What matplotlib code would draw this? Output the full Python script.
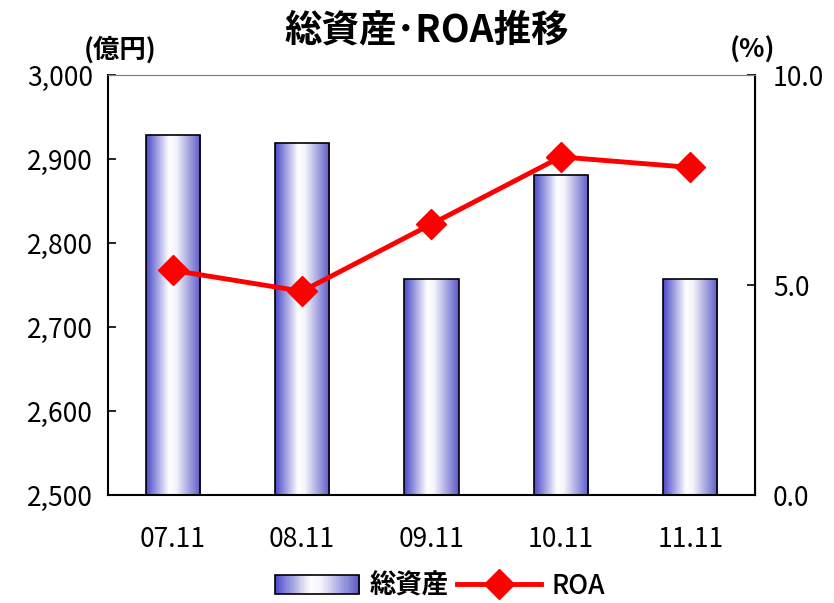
import matplotlib
matplotlib.use("Agg")
import matplotlib.pyplot as plt
import numpy as np
from matplotlib.patches import Rectangle
from matplotlib.legend_handler import HandlerBase
from matplotlib.lines import Line2D
from matplotlib.colors import LinearSegmentedColormap

categories = ["07.11", "08.11", "09.11", "10.11", "11.11"]
assets = [2929, 2919, 2757, 2881, 2757]
roa = [5.35, 4.85, 6.45, 8.05, 7.8]
left_ticks = [2500, 2600, 2700, 2800, 2900, 3000]
right_ticks = [0.0, 5.0, 10.0]

plt.rcParams['font.family'] = ['Noto Sans CJK JP', 'DejaVu Sans']
JP = ['Noto Sans CJK JP', 'DejaVu Sans']

cmap = LinearSegmentedColormap.from_list(
    "bar", [(0.0, "#4848c8"), (0.42, "#ffffff"), (0.55, "#f4f4fb"), (1.0, "#5a5ac8")])

fig = plt.figure(figsize=(8.34, 6.03), dpi=100)
ax = fig.add_axes([108/834, 108/603, 647/834, 420/603])
ax2 = ax.twinx()

x = np.arange(len(categories))
width = 0.42
bars = ax.bar(x, assets, width=width, bottom=0, facecolor="none",
              edgecolor="black", linewidth=1.2, zorder=3)
grad = np.linspace(0, 1, 256).reshape(1, -1)
for b in bars:
    x0 = b.get_x(); w = b.get_width(); h = b.get_height()
    im = ax.imshow(grad, cmap=cmap, aspect="auto", extent=[x0, x0 + w, 2500, h],
                   zorder=2, interpolation="bicubic")
    im.set_clip_path(b)

ax.set_xlim(-0.5, len(categories) - 0.5)
ax.set_ylim(2500, 3000)
ax.set_yticks(left_ticks)
ax.set_yticklabels([f"{v:,}" for v in left_ticks], fontsize=19)
ax.set_xticks(x)
ax.set_xticklabels(categories, fontsize=19)
ax.tick_params(axis='y', direction='in', length=6, width=1.2, pad=11)
ax.tick_params(axis='x', length=0, pad=22)
ax.spines['top'].set_color("#808080")
ax.spines['left'].set_linewidth(1.5)
ax.spines['bottom'].set_linewidth(1.5)

ax2.plot(x, roa, color="#ff0000", lw=3.5, marker="D", markersize=15,
         markerfacecolor="#ff0000", markeredgecolor="#ff0000", zorder=5)
ax2.set_ylim(0, 10)
ax2.set_yticks(right_ticks)
ax2.set_yticklabels([f"{v:.1f}" for v in right_ticks], fontsize=19)
ax2.tick_params(axis='y', direction='in', length=6, width=1.2, pad=13)
ax2.spines['right'].set_linewidth(1.5)
ax2.spines['top'].set_color("#808080")
ax2.spines['left'].set_visible(False)
ax2.spines['bottom'].set_visible(False)

fig.text(427/834, 1 - 30/603, "総資産･ROA推移", ha="center", va="center",
         fontsize=27, fontweight="bold", family=JP)
fig.text(120/834, 1 - 50/603, "(億円)", ha="center", va="center",
         fontsize=19, fontweight="bold", family=JP)
fig.text(753/834, 1 - 50/603, "(%)", ha="center", va="center",
         fontsize=19, fontweight="bold", family=JP)


class GradHandler(HandlerBase):
    def create_artists(self, legend, orig_handle, xdescent, ydescent, width,
                       height, fontsize, trans):
        arts = []
        n = 40
        for i in range(n):
            c = cmap((i + 0.5) / n)
            r = Rectangle((-xdescent + width * i / n, -ydescent), width / n + 0.3, height,
                          facecolor=c, edgecolor="none", transform=trans)
            arts.append(r)
        arts.append(Rectangle((-xdescent, -ydescent), width, height, facecolor="none",
                              edgecolor="black", lw=1.2, transform=trans))
        return arts


bar_handle = Rectangle((0, 0), 1, 1)
line_handle = Line2D([], [], color="#ff0000", lw=3.5, marker="D", markersize=15)
leg = fig.legend([bar_handle, line_handle], ["総資産", "ROA"],
                 handler_map={Rectangle: GradHandler()},
                 loc="center", bbox_to_anchor=(440/834, 1 - 586/603), ncol=2, frameon=False,
                 prop={'family': JP, 'size': 19, 'weight': 'bold'}, handlelength=3.2,
                 handletextpad=0.4, columnspacing=0.3)
leg.get_texts()[1].set_fontweight('medium')

fig.savefig("out.png", dpi=100)
